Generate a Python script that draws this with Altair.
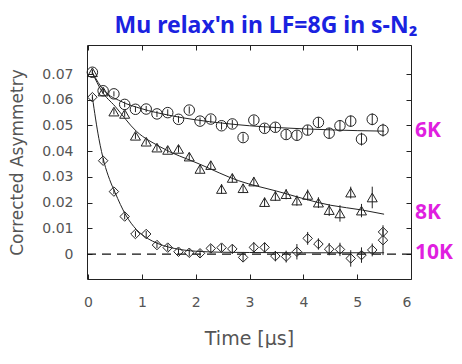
import altair as alt
import pandas as pd

# ---------------- data ----------------
times = [0.08, 0.28, 0.48, 0.68, 0.88, 1.08, 1.28, 1.48, 1.68, 1.88, 2.08, 2.28,
         2.48, 2.68, 2.88, 3.08, 3.28, 3.48, 3.68, 3.88, 4.08, 4.28, 4.48, 4.68,
         4.88, 5.08, 5.28, 5.48]

# 6K (circles)
circ_y = [0.0707, 0.0635, 0.0623, 0.0582, 0.0563, 0.0564, 0.0545, 0.0550, 0.0524,
          0.0560, 0.0517, 0.0525, 0.0499, 0.0506, 0.0453, 0.0521, 0.0489, 0.0493,
          0.0465, 0.0462, 0.0482, 0.0512, 0.0470, 0.0499, 0.0517, 0.0447, 0.0524,
          0.0482]
circ_err = [0.0010, 0.0010, 0.0010, 0.0011, 0.0011, 0.0012, 0.0012, 0.0013, 0.0013,
            0.0014, 0.0014, 0.0015, 0.0015, 0.0016, 0.0016, 0.0017, 0.0017, 0.0018,
            0.0018, 0.0019, 0.0019, 0.0020, 0.0021, 0.0021, 0.0022, 0.0025, 0.0023,
            0.0025]

# 8K (triangles)
tri_t = times[:27]
tri_y = [0.0707, 0.0632, 0.0554, 0.0545, 0.0460, 0.0437, 0.0414, 0.0405, 0.0409,
         0.0379, 0.0331, 0.0346, 0.0253, 0.0296, 0.0256, 0.0282, 0.0202, 0.0226,
         0.0233, 0.0208, 0.0230, 0.0200, 0.0171, 0.0158, 0.0239, 0.0169, 0.0220]
tri_err = [0.0010, 0.0010, 0.0011, 0.0011, 0.0012, 0.0012, 0.0013, 0.0013, 0.0014,
           0.0014, 0.0015, 0.0016, 0.0019, 0.0017, 0.0017, 0.0018, 0.0018, 0.0019,
           0.0020, 0.0020, 0.0021, 0.0021, 0.0023, 0.0032, 0.0023, 0.0026, 0.0042]

# 10K (diamonds)
dia_t = times + [5.48]
dia_y = [0.0610, 0.0363, 0.0243, 0.0146, 0.0078, 0.0078, 0.0035, 0.0025, 0.0009,
         0.0005, 0.0003, 0.0022, 0.0025, 0.0020, -0.0013, 0.0026, 0.0026, -0.0008,
         -0.0010, 0.0009, 0.0061, 0.0039, 0.0019, 0.0018, -0.0017, -0.0004, 0.0016,
         0.0054, 0.0086]
dia_err = [0.0010, 0.0010, 0.0010, 0.0011, 0.0011, 0.0012, 0.0012, 0.0013, 0.0013,
           0.0014, 0.0014, 0.0015, 0.0015, 0.0016, 0.0016, 0.0020, 0.0019, 0.0020,
           0.0023, 0.0030, 0.0025, 0.0022, 0.0024, 0.0026, 0.0032, 0.0030, 0.0025,
           0.0058, 0.0012]

# fitted curves
fit_circ_t = [0.08, 0.3, 0.6, 1.0, 1.5, 2.0, 2.5, 3.0, 3.5, 4.0, 4.5, 5.0, 5.5]
fit_circ_y = [0.0705, 0.0635, 0.0595, 0.0565, 0.0540, 0.0522, 0.0509, 0.0499,
              0.0492, 0.0487, 0.0483, 0.0480, 0.0478]
fit_tri_t = [0.08, 0.25, 0.5, 0.9, 1.33, 2.07, 2.8, 3.5, 4.5, 5.1, 5.5]
fit_tri_y = [0.0705, 0.0635, 0.0575, 0.0477, 0.0418, 0.0350, 0.0285, 0.0245,
             0.0190, 0.0171, 0.0155]
fit_dia_t = [0.08, 0.2, 0.3, 0.4, 0.5, 0.6, 0.7, 0.8, 0.9, 1.0, 1.2, 1.4, 1.6,
             1.8, 2.0, 2.5, 3.0, 4.0, 5.5]
fit_dia_y = [0.0610, 0.0450, 0.0355, 0.0290, 0.0240, 0.0193, 0.0152, 0.0120,
             0.0095, 0.0076, 0.0050, 0.0033, 0.0022, 0.0015, 0.0011, 0.0007,
             0.0006, 0.0005, 0.0005]

series_names = ["6K", "8K", "10K"]
label_y = [0.0479, 0.0160, 0.0006]

x_ticks = [0, 1, 2, 3, 4, 5, 6]
y_ticks = [0, 0.01, 0.02, 0.03, 0.04, 0.05, 0.06, 0.07]

# ---------------- tables ----------------
rows = []
for name, ts, ys_, es in [("6K", times, circ_y, circ_err),
                          ("8K", tri_t, tri_y, tri_err),
                          ("10K", dia_t, dia_y, dia_err)]:
    for t, v, e in zip(ts, ys_, es):
        rows.append({"series": name, "t": t, "y": v, "lo": v - e, "hi": v + e})
pts = pd.DataFrame(rows)

frows = []
for name, ts, ys_ in [("6K", fit_circ_t, fit_circ_y),
                      ("8K", fit_tri_t, fit_tri_y),
                      ("10K", fit_dia_t, fit_dia_y)]:
    for t, v in zip(ts, ys_):
        frows.append({"series": name, "t": t, "y": v})
fits = pd.DataFrame(frows)

labels = pd.DataFrame({"label": series_names, "ly": label_y})
zero = pd.DataFrame({"z": [0.0]})

ink = "#222222"
grey = "#555555"
xs = alt.Scale(domain=[-0.02, 6.0], nice=False, zero=False)
ys = alt.Scale(domain=[-0.0097, 0.0813], nice=False, zero=False)

common_axis = dict(domain=False, grid=False, tickColor=ink, tickWidth=1,
                   labelFont="DejaVu Sans", labelFontSize=14, labelColor=grey,
                   titleFont="DejaVu Sans", titleFontWeight="normal",
                   titleColor=grey)

x_bottom = alt.Axis(orient="bottom", values=x_ticks, offset=-5, tickSize=5,
                    labelPadding=16, title="Time  [μs]", titlePadding=20,
                    titleFontSize=19, format="d", **common_axis)
y_left = alt.Axis(orient="left", values=y_ticks, offset=-5, tickSize=5,
                  labelPadding=14, title="Corrected Asymmetry", titlePadding=15,
                  titleFontSize=17, format=".2~f", **common_axis)
x_top = alt.Axis(orient="top", values=x_ticks, offset=-5, tickSize=5,
                 labels=False, title=None, domain=False, grid=False, tickColor=ink)
y_right = alt.Axis(orient="right", values=y_ticks, offset=-5, tickSize=5,
                   labels=False, title=None, domain=False, grid=False, tickColor=ink)

errbars = alt.Chart(pts).mark_rule(color=ink, strokeWidth=1).encode(
    x=alt.X("t:Q", scale=xs, axis=x_bottom),
    y=alt.Y("lo:Q", scale=ys, axis=y_left),
    y2="hi:Q",
)

points = alt.Chart(pts).mark_point(filled=False, strokeWidth=1, color=ink, opacity=1).encode(
    x=alt.X("t:Q", scale=xs, axis=None),
    y=alt.Y("y:Q", scale=ys, axis=None),
    shape=alt.Shape("series:N", scale=alt.Scale(domain=series_names,
                    range=["circle", "triangle-up", "diamond"]), legend=None),
    size=alt.Size("series:N", scale=alt.Scale(domain=series_names,
                  range=[110, 90, 120]), legend=None),
)

fit_lines = alt.Chart(fits).mark_line(color=ink, strokeWidth=1, interpolate="monotone").encode(
    x=alt.X("t:Q", scale=xs, axis=x_top),
    y=alt.Y("y:Q", scale=ys, axis=y_right),
    detail="series:N",
)

zero_line = alt.Chart(zero).mark_rule(color="#111111", strokeWidth=1.2, strokeDash=[9, 6]).encode(
    y=alt.Y("z:Q", scale=ys, axis=None),
)

temp_labels = alt.Chart(labels).mark_text(
    font="Noto Sans", fontSize=21, fontWeight="bold", color="#e01fe0",
    align="left", baseline="middle").encode(
    x=alt.value(328),
    y=alt.Y("ly:Q", scale=ys, axis=None),
    text="label:N",
)

chart = alt.layer(zero_line, fit_lines, errbars, points, temp_labels).resolve_axis(
    x="independent", y="independent"
).properties(
    width=324, height=234,
    title=alt.TitleParams("Mu relax'n in LF=8G in s-N₂", font="Noto Sans", fontSize=23,
                          fontWeight="bold", color="#1a22e0", anchor="middle",
                          dx=17, offset=7),
    autosize=alt.AutoSizeParams(type="none"),
    padding={"left": 79, "top": 37, "right": 43, "bottom": 69},
    background="white",
).configure_view(stroke=ink, strokeWidth=1)

chart.save("out.html", embed_options={"renderer": "svg", "actions": False})
